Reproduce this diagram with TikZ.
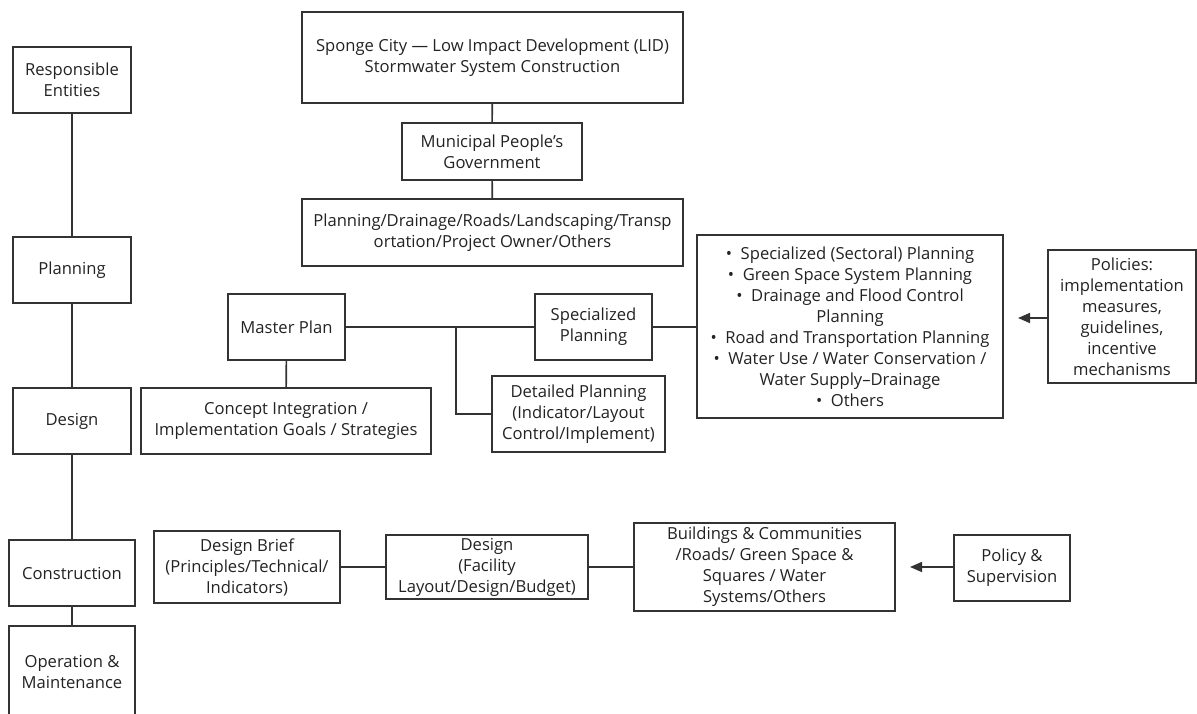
\documentclass[tikz,border=0pt]{standalone}
\usepackage{fontspec}
\setmainfont{Open Sans}[Ligatures=ResetAll]
\usetikzlibrary{arrows.meta}
\definecolor{ln}{HTML}{333333}
\definecolor{tx}{HTML}{222222}
\tikzset{
  box/.style={draw=ln, line width=1.6pt, align=center, inner sep=2pt, text=tx,
    font=\fontsize{16.6}{21}\selectfont},
  conn/.style={draw=ln, line width=1.6pt},
  arr/.style={conn, -{Triangle[length=12pt,width=10pt]}}
}
\begin{document}
\begin{tikzpicture}[x=1pt,y=-1pt]
\useasboundingbox (0,0) rectangle (1197,714);
% left column
\node[box, minimum width=118pt, minimum height=66pt] (re) at (72,80) {Responsible\\Entities};
\node[box, minimum width=118pt, minimum height=66pt] (pl) at (72,270) {Planning};
\node[box, minimum width=118pt, minimum height=66pt] (de) at (72,421) {Design};
\node[box, minimum width=126pt, minimum height=66pt] (co) at (72,573) {Construction};
\node[box, minimum width=126pt, minimum height=92pt] (om) at (72,672) {Operation \&\\Maintenance};
\draw[conn] (re) -- (pl);
\draw[conn] (pl) -- (de);
\draw[conn] (de) -- (co);
\draw[conn] (co) -- (om);
% top
\node[box, minimum width=381pt, minimum height=91pt] (sc) at (492.5,57.5) {Sponge City — Low Impact Development (LID)\\Stormwater System Construction};
\node[box, minimum width=180pt, minimum height=57pt] (mg) at (492,151.5) {Municipal People\char"0027 s\\Government};
\node[box, minimum width=381pt, minimum height=67pt] (pd) at (492.5,232.5) {Planning/Drainage/Roads/Landscaping/Transp\\ortation/Project Owner/Others};
\draw[conn] (sc) -- (mg);
\draw[conn] (mg) -- (pd);
% planning row
\node[box, minimum width=117pt, minimum height=66pt] (mp) at (286.5,327) {Master Plan};
\node[box, minimum width=290pt, minimum height=66pt] (ci) at (286,421) {Concept Integration /\\Implementation Goals / Strategies};
\node[box, minimum width=117pt, minimum height=66pt] (sp) at (593.5,327) {Specialized\\Planning};
\node[box, minimum width=173pt, minimum height=76pt] (dp) at (578.5,414) {Detailed Planning\\(Indicator/Layout\\Control/Implement)};
\node[box, minimum width=306pt, minimum height=183pt] (bl) at (850,326.5) {•\ \ Specialized (Sectoral) Planning\\
•\ \ Green Space System Planning\\
•\ \ Drainage and Flood Control\\Planning\\
•\ \ Road and Transportation Planning\\
•\ \ Water Use / Water Conservation /\\Water Supply–Drainage\\
•\ \ Others};
\node[box, minimum width=148pt, minimum height=133pt] (po) at (1122,316.5) {Policies:\\implementation\\measures,\\guidelines,\\incentive\\mechanisms};
\coordinate (br) at (456,327);
\coordinate (pa) at (1018,318);
\draw[conn] (mp) -- (sp);
\draw[conn] (mp) -- (ci);
\draw[conn] (br) |- (dp.west);
\draw[conn] (sp) -- (bl.west |- sp);
\draw[arr] (po.west |- pa) -- (pa);
% construction row
\node[box, minimum width=186pt, minimum height=72pt] (db) at (247,567) {Design Brief\\(Principles/Technical/\\Indicators)};
\node[box, minimum width=202pt, minimum height=64pt] (dd) at (487,567) {Design\\(Facility\\Layout/Design/Budget)};
\node[box, minimum width=261pt, minimum height=88pt] (bc) at (764.5,567) {Buildings \& Communities\\/Roads/ Green Space \&\\Squares / Water\\Systems/Others};
\node[box, minimum width=116pt, minimum height=66pt] (ps) at (1012,568) {Policy \&\\Supervision};
\coordinate (pb) at (910,567);
\draw[conn] (db) -- (dd);
\draw[conn] (dd) -- (bc);
\draw[arr] (ps.west |- pb) -- (pb);
\end{tikzpicture}
\end{document}
